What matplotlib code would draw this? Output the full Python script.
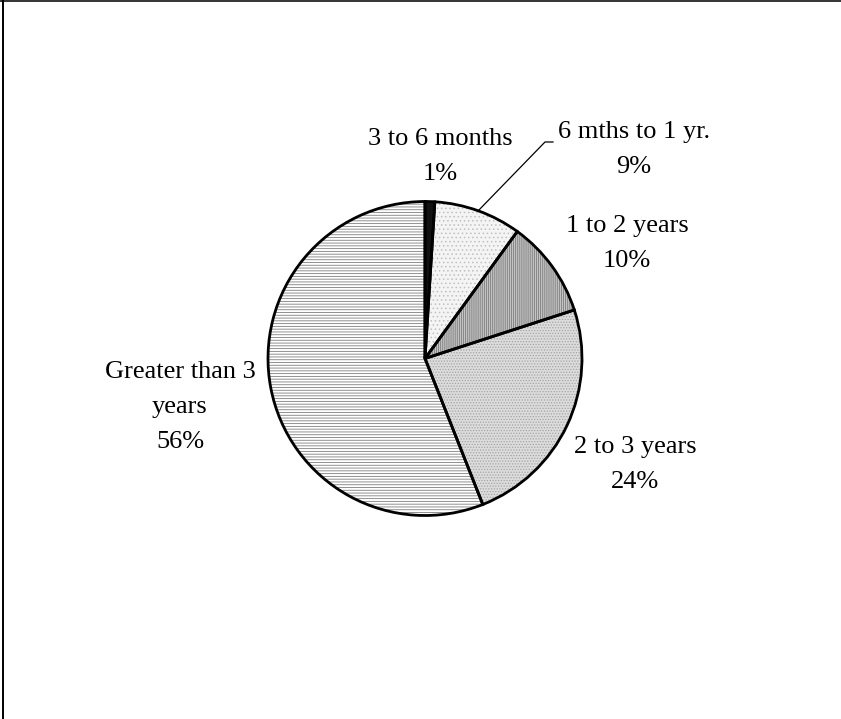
import textwrap
import numpy as np
import matplotlib
matplotlib.use("Agg")
import matplotlib.pyplot as plt
from matplotlib.lines import Line2D

# Share of holdings by time held
categories = ["3 to 6 months", "6 mths to 1 yr.", "1 to 2 years",
              "2 to 3 years", "Greater than 3 years"]
percents = [1, 9, 10, 24, 56]

# Fill styles per slice
face_colors = ["#111111", "#f4f4f4", "#c4c4c4", "#dcdcdc", "#ffffff"]
hatch_colors = ["#000000", "#c0c0c0", "#7c7c7c", "#a4a4a4", "#7e7e7e"]
hatches = ["", "....", "||||||||", "......", "------"]

W, H = 841, 719
plt.rcParams["font.family"] = ["Liberation Serif", "DejaVu Serif"]
plt.rcParams["hatch.linewidth"] = 0.6

fig = plt.figure(figsize=(W / 100, H / 100), dpi=100)
ax = fig.add_axes([0, 0, 1, 1])

cx, cy, r = 425, H - 358.5, 157

# pass 1: textured fills without outlines
wedges, _ = ax.pie(percents, startangle=90, counterclock=False,
                   center=(cx, cy), radius=r, frame=True,
                   colors=face_colors,
                   wedgeprops=dict(linewidth=0))
for w, hc, ht in zip(wedges, hatch_colors, hatches):
    w.set_edgecolor(hc)
    w.set_linewidth(0)
    w.set_hatch(ht)

# pass 2: black outlines
ax.pie(percents, startangle=90, counterclock=False,
       center=(cx, cy), radius=r, frame=True,
       wedgeprops=dict(facecolor="none", edgecolor="black", linewidth=2.0))

ax.set_xlim(0, W)
ax.set_ylim(0, H)
ax.set_aspect("auto")
ax.axis("off")

# label placement: centre x and first baseline (pixels from top)
layout = [(440, 145), (634, 138), (627, 232), (635, 453), (180, 378)]
line_step = 35
for name, pct, (lx, ly) in zip(categories, percents, layout):
    lines = textwrap.wrap(name, 15) + [f"{pct}%"]
    for i, s in enumerate(lines):
        ax.text(lx, H - (ly + i * line_step), s, ha="center", va="baseline",
                fontsize=19, color="black")

# leader line for the second slice
cum = np.cumsum([0] + percents)
mid = 90 - 360 * (cum[1] + percents[1] / 2) / 100
ex, ey = cx + r * np.cos(np.radians(mid)), cy + r * np.sin(np.radians(mid))
ax.plot([ex, 545, 553], [ey, H - 142, H - 142], color="black", linewidth=0.9)

# outer frame (top and left edges)
fig.add_artist(Line2D([0, 1], [1 - 0.8 / H, 1 - 0.8 / H], transform=fig.transFigure,
                      color="#333333", linewidth=1.4))
fig.add_artist(Line2D([2.5 / W, 2.5 / W], [0, 1], transform=fig.transFigure,
                      color="black", linewidth=1.4))

fig.savefig("out.png", dpi=100)
